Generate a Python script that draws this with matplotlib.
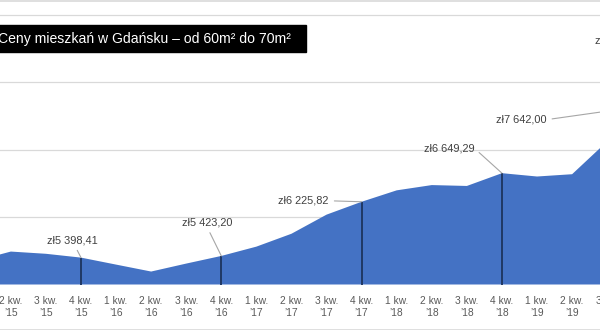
import matplotlib

matplotlib.use("Agg")
import matplotlib.pyplot as plt
from matplotlib.lines import Line2D
from matplotlib.patches import Rectangle

plt.rcParams["font.family"] = ["Liberation Sans", "DejaVu Sans"]

# quarterly average prices, Gdańsk, 60-70 m²
quarters = ["1 kw.\n’15", "2 kw.\n’15", "3 kw.\n’15", "4 kw.\n’15",
            "1 kw.\n’16", "2 kw.\n’16", "3 kw.\n’16", "4 kw.\n’16",
            "1 kw.\n’17", "2 kw.\n’17", "3 kw.\n’17", "4 kw.\n’17",
            "1 kw.\n’18", "2 kw.\n’18", "3 kw.\n’18", "4 kw.\n’18",
            "1 kw.\n’19", "2 kw.\n’19", "3 kw.\n’19", "4 kw.\n’19",
            "1 kw.\n’20"]
prices = [5350, 5488, 5455, 5398.41,
          5295, 5192, 5310, 5423.20,
          5561, 5752, 6035, 6225.82,
          6395, 6473, 6460, 6649.29,
          6600, 6634, 7120, 7642.00,
          8420.00]
labelled = [3, 7, 11, 15, 19, 20]
label_text = ["zł5 398,41", "zł5 423,20", "zł6 225,82", "zł6 649,29",
              "zł7 642,00", "zł8 420,00"]
title = "Ceny mieszkań w Gdańsku – od 60m² do 70m²"

FILL = "#4472c4"
DARK = "#1f3864"
GRID = "#d9d9d9"

# the chart is wider than the picture: the axes run past both edges
W, H = 600, 330
pad_px = 60
fig = plt.figure(figsize=(6, 3.3), dpi=100)
ax = fig.add_axes([-pad_px / W, 45.5 / H, 1 + 2 * pad_px / W, 284.5 / H])

x = list(range(len(prices)))
ax.fill_between(x, 5000, prices, color=FILL, lw=0, zorder=2)
q4 = [i for i in x if quarters[i].startswith("4")]
ax.vlines(q4, 5000, [prices[i] for i in q4], color=DARK, lw=1.4, zorder=3)

ax.set_yticks([6000, 7000, 8000, 9000])
ax.yaxis.grid(True, color=GRID, lw=0.9, zorder=0)
ax.set_axisbelow(True)
ax.tick_params(axis="y", length=0, labelleft=False)
ax.set_xticks(x)
ax.set_xticklabels(quarters, fontsize=7.4, color="#595959", linespacing=1.25)
ax.tick_params(axis="x", length=0, pad=8)
step = 35.08
ax.set_xlim(0.691 - pad_px / step, 17.795 + pad_px / step)
ax.set_ylim(5000, 9215)
for s in ax.spines.values():
    s.set_visible(False)

# data labels with leader lines (offsets in pixels)
offsets = [(-9, 17.5), (-14, 33.5), (-58, 1), (-53, 25), (-121, -13.5), (-57, 13.5)]
relpos = [(0.55, 0), (0.5, 0), (1, 0.5), (1, 0.5), (1, 0.5), (1, 0.5)]
for i, txt, off, rp in zip(labelled, label_text, offsets, relpos):
    ax.annotate(txt, xy=(i, prices[i]), xytext=off, textcoords="offset pixels",
                ha="center", va="center", fontsize=7.9, color="#404040",
                annotation_clip=False, zorder=5,
                arrowprops=dict(arrowstyle="-", color="#a6a6a6", lw=0.8,
                                shrinkA=2, shrinkB=0, relpos=rp))

# title box
fig.add_artist(Rectangle((-0.05, (H - 52) / H), 0.05 + 306 / W, 27 / H,
                         transform=fig.transFigure, color="black", zorder=6))
fig.text(-2 / W, (H - 38.5) / H, title, color="white", fontsize=10.1,
         ha="left", va="center", zorder=7)

# chart border
for yy in (0.5, 329.5):
    fig.add_artist(Line2D([0, 1], [1 - yy / H] * 2, color=GRID, lw=1.2))

fig.savefig("out.png", dpi=100)
